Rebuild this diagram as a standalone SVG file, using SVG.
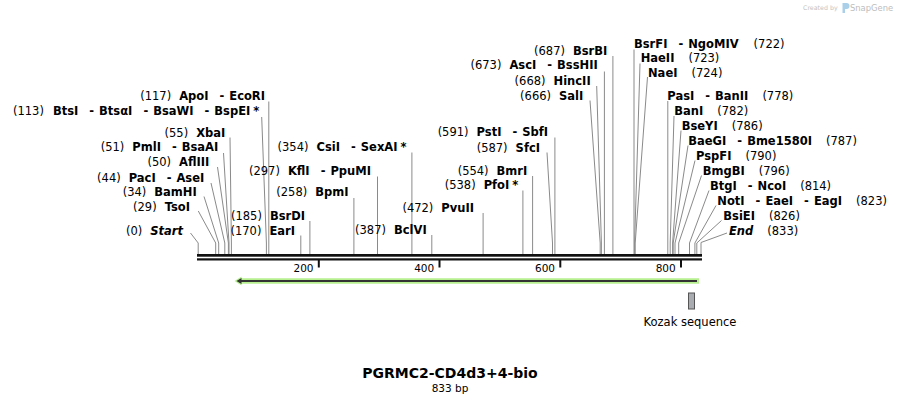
<svg xmlns="http://www.w3.org/2000/svg" width="900" height="404" viewBox="0 0 900 404">
<style>
text{font-family:"DejaVu Sans",Verdana,sans-serif;font-size:11.5px;fill:#000}
.e{text-anchor:end}
.b{font-weight:bold}
.i{font-weight:bold;font-style:italic}
.c{stroke:#8a8a8a;stroke-width:1;fill:none}
.tick{font-size:10.5px}
</style>
<rect width="900" height="404" fill="#fff"/>
<g id="watermark">
<text x="803" y="10" style="font-size:6.3px;fill:#c4c4c4">Created by</text>
<path d="M842.5,3 h4 a3,3 0 0 1 0,6 h-1.5 v4 h-2.5 z" fill="#a9cfe9"/>
<text x="850" y="11" style="font-size:8.4px;fill:#bdbdbd">SnapGene</text>
</g>
<g id="connectors">
<path class="c" d="M190.5,233 L198.2,243 V254"/>
<path class="c" d="M198.3,211 L215.7,243 V254"/>
<path class="c" d="M204,196.5 L218.7,243 V254"/>
<path class="c" d="M211,183 L224.8,243 V254"/>
<path class="c" d="M217.5,167 L228.4,243 V254"/>
<path class="c" d="M223.5,153 L229,243 V254"/>
<path class="c" d="M230,137.5 L231.4,243 V254"/>
<path class="c" d="M261.7,117 L266.4,243 V254"/>
<path class="c" d="M268.8,101.5 V254"/>
<path class="c" d="M300.8,235.5 V254"/>
<path class="c" d="M309.9,221 V254"/>
<path class="c" d="M353.9,198 V254"/>
<path class="c" d="M377.5,176.5 V254"/>
<path class="c" d="M411.9,152.5 V254"/>
<path class="c" d="M431.8,235 V254"/>
<path class="c" d="M483.1,213 V254"/>
<path class="c" d="M522.9,190.5 V254"/>
<path class="c" d="M532.6,176 V254"/>
<path class="c" d="M547,152.5 L552.5,243 V254"/>
<path class="c" d="M554.9,137.5 V254"/>
<path class="c" d="M590,100.5 L600.2,243 V254"/>
<path class="c" d="M596.7,86 L601.4,243 V254"/>
<path class="c" d="M604.4,71.5 V254"/>
<path class="c" d="M612.9,56 V254"/>
<path class="c" d="M634,49.5 V254"/>
<path class="c" d="M640,63.5 L634.6,243 V254"/>
<path class="c" d="M647.5,77 L635.2,243 V254"/>
<path class="c" d="M667.8,101 V254"/>
<path class="c" d="M674,116 L670.2,243 V254"/>
<path class="c" d="M681,130.5 L672.6,243 V254"/>
<path class="c" d="M688,145.5 L673.2,243 V254"/>
<path class="c" d="M695,160.5 L675,243 V254"/>
<path class="c" d="M701.5,175.5 L678.7,243 V254"/>
<path class="c" d="M709,190.5 L689.5,243 V254"/>
<path class="c" d="M716,205.5 L694.9,243 V254"/>
<path class="c" d="M721.5,220.5 L696.8,243 V254"/>
<path class="c" d="M727,233 L701,242.5 V254"/>
</g>
<g id="ruler">
<rect x="197" y="254" width="505" height="2.7" fill="#111"/>
<rect x="197" y="258.3" width="505" height="2.2" fill="#111"/>
<rect x="317.8" y="260" width="2" height="7.5" fill="#111"/>
<rect x="438.5" y="260" width="2" height="7.5" fill="#111"/>
<rect x="559.3" y="260" width="2" height="7.5" fill="#111"/>
<rect x="680" y="260" width="2" height="7.5" fill="#111"/>
<text class="e tick" x="313.5" y="271.5">200</text>
<text class="e tick" x="434.2" y="271.5">400</text>
<text class="e tick" x="555" y="271.5">600</text>
<text class="e tick" x="675.7" y="271.5">800</text>
</g>
<g id="feature-arrow">
<polygon points="234.5,281 241.5,276.5 241.5,278.3 699,278.3 699,283.7 241.5,283.7 241.5,285.5" fill="#b6f08f"/>
<line x1="240" y1="281" x2="697" y2="281" stroke="#333" stroke-width="2"/>
<polygon points="236.5,281 241.5,278 241.5,284" fill="#333"/>
</g>
<g id="kozak">
<rect x="688.5" y="293" width="6" height="16" fill="#a9adb2" stroke="#555" stroke-width="1"/>
<text x="690" y="326" text-anchor="middle">Kozak sequence</text>
</g>
<g id="site-start"><text class="e" x="183" y="234.5">(0)<tspan class="i" dx="8">Start</tspan></text></g>
<g id="site-tsoi"><text class="e" x="190" y="211">(29)<tspan class="b" dx="8">TsoI</tspan></text></g>
<g id="site-bamhi"><text class="e" x="196.7" y="196">(34)<tspan class="b" dx="8">BamHI</tspan></text></g>
<g id="site-paci"><text class="e" x="204.3" y="182">(44)<tspan class="b" dx="8">PacI</tspan><tspan class="b" dx="11">-</tspan><tspan class="b" dx="5">AseI</tspan></text></g>
<g id="site-afliii"><text class="e" x="209.3" y="166">(50)<tspan class="b" dx="8">AflIII</tspan></text></g>
<g id="site-pmli"><text class="e" x="218.3" y="151">(51)<tspan class="b" dx="8">PmlI</tspan><tspan class="b" dx="11">-</tspan><tspan class="b" dx="5">BsaAI</tspan></text></g>
<g id="site-xbai"><text class="e" x="225.3" y="136.5">(55)<tspan class="b" dx="8">XbaI</tspan></text></g>
<g id="site-btsi"><text class="e" x="259.3" y="114.5">(113)<tspan class="b" dx="9">BtsI</tspan><tspan class="b" dx="11">-</tspan><tspan class="b" dx="5">BtsαI</tspan><tspan class="b" dx="11">-</tspan><tspan class="b" dx="5">BsaWI</tspan><tspan class="b" dx="11">-</tspan><tspan class="b" dx="5">BspEI</tspan><tspan class="b" dx="3">*</tspan></text></g>
<g id="site-apoi"><text class="e" x="265" y="99.5">(117)<tspan class="b" dx="8">ApoI</tspan><tspan class="b" dx="11">-</tspan><tspan class="b" dx="5">EcoRI</tspan></text></g>
<g id="site-eari"><text class="e" x="295" y="234.5">(170)<tspan class="b" dx="8">EarI</tspan></text></g>
<g id="site-bsrdi"><text class="e" x="305" y="219.5">(185)<tspan class="b" dx="8">BsrDI</tspan></text></g>
<g id="site-bpmi"><text class="e" x="348.5" y="196">(258)<tspan class="b" dx="8">BpmI</tspan></text></g>
<g id="site-kfli"><text class="e" x="371" y="174.5">(297)<tspan class="b" dx="8">KflI</tspan><tspan class="b" dx="11">-</tspan><tspan class="b" dx="5">PpuMI</tspan></text></g>
<g id="site-csii"><text class="e" x="406.5" y="150.5">(354)<tspan class="b" dx="8">CsiI</tspan><tspan class="b" dx="11">-</tspan><tspan class="b" dx="5">SexAI</tspan><tspan class="b" dx="3">*</tspan></text></g>
<g id="site-bclvi"><text class="e" x="426.7" y="234">(387)<tspan class="b" dx="8">BclVI</tspan></text></g>
<g id="site-pvuii"><text class="e" x="474" y="211.5">(472)<tspan class="b" dx="8">PvuII</tspan></text></g>
<g id="site-pfoi"><text class="e" x="518.3" y="189">(538)<tspan class="b" dx="8">PfoI</tspan><tspan class="b" dx="3">*</tspan></text></g>
<g id="site-bmri"><text class="e" x="527.3" y="174.5">(554)<tspan class="b" dx="8">BmrI</tspan></text></g>
<g id="site-sfci"><text class="e" x="540" y="151.5">(587)<tspan class="b" dx="8">SfcI</tspan></text></g>
<g id="site-psti"><text class="e" x="548" y="136">(591)<tspan class="b" dx="8">PstI</tspan><tspan class="b" dx="11">-</tspan><tspan class="b" dx="5">SbfI</tspan></text></g>
<g id="site-sali"><text class="e" x="583.3" y="99.5">(666)<tspan class="b" dx="8">SalI</tspan></text></g>
<g id="site-hincii"><text class="e" x="590.7" y="84.5">(668)<tspan class="b" dx="8">HincII</tspan></text></g>
<g id="site-asci"><text class="e" x="597.7" y="69">(673)<tspan class="b" dx="8">AscI</tspan><tspan class="b" dx="11">-</tspan><tspan class="b" dx="5">BssHII</tspan></text></g>
<g id="site-bsrbi"><text class="e" x="607.3" y="55">(687)<tspan class="b" dx="8">BsrBI</tspan></text></g>
<g id="site-bsrfi"><text x="634" y="48"><tspan class="b">BsrFI</tspan><tspan class="b" dx="11">-</tspan><tspan class="b" dx="5">NgoMIV</tspan><tspan dx="15">(722)</tspan></text></g>
<g id="site-haeii"><text x="640.7" y="62"><tspan class="b">HaeII</tspan><tspan dx="14">(723)</tspan></text></g>
<g id="site-naei"><text x="648" y="76.5"><tspan class="b">NaeI</tspan><tspan dx="14">(724)</tspan></text></g>
<g id="site-pasi"><text x="667.3" y="99.5"><tspan class="b">PasI</tspan><tspan class="b" dx="11">-</tspan><tspan class="b" dx="5">BanII</tspan><tspan dx="14">(778)</tspan></text></g>
<g id="site-bani"><text x="674.3" y="114.5"><tspan class="b">BanI</tspan><tspan dx="14">(782)</tspan></text></g>
<g id="site-bseyi"><text x="681.7" y="130"><tspan class="b">BseYI</tspan><tspan dx="14">(786)</tspan></text></g>
<g id="site-baegi"><text x="688.3" y="144.5"><tspan class="b">BaeGI</tspan><tspan class="b" dx="11">-</tspan><tspan class="b" dx="5">Bme1580I</tspan><tspan dx="14">(787)</tspan></text></g>
<g id="site-pspfi"><text x="696" y="159.5"><tspan class="b">PspFI</tspan><tspan dx="14">(790)</tspan></text></g>
<g id="site-bmgbi"><text x="702.7" y="174.5"><tspan class="b">BmgBI</tspan><tspan dx="14">(796)</tspan></text></g>
<g id="site-btgi"><text x="710" y="189.5"><tspan class="b">BtgI</tspan><tspan class="b" dx="11">-</tspan><tspan class="b" dx="5">NcoI</tspan><tspan dx="14">(814)</tspan></text></g>
<g id="site-noti"><text x="717.3" y="204.5"><tspan class="b">NotI</tspan><tspan class="b" dx="11">-</tspan><tspan class="b" dx="5">EaeI</tspan><tspan class="b" dx="11">-</tspan><tspan class="b" dx="5">EagI</tspan><tspan dx="14">(823)</tspan></text></g>
<g id="site-bsiei"><text x="723.3" y="219.5"><tspan class="b">BsiEI</tspan><tspan dx="14">(826)</tspan></text></g>
<g id="site-end"><text x="729" y="234.5"><tspan class="i">End</tspan><tspan dx="14">(833)</tspan></text></g>
<g id="title">
<text x="450" y="378" text-anchor="middle" style="font-size:14px;font-weight:bold">PGRMC2-CD4d3+4-bio</text>
<text x="450" y="392" text-anchor="middle" style="font-size:10.5px">833 bp</text>
</g>
</svg>
